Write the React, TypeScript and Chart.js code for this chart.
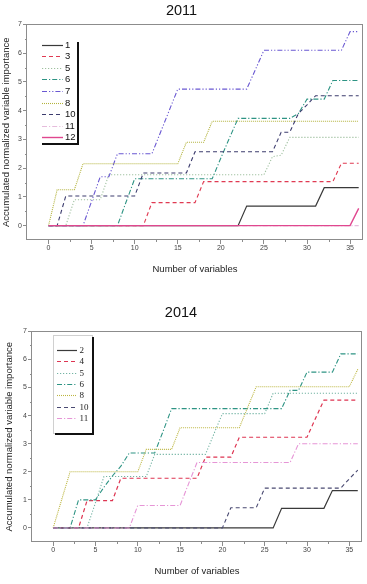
import React, { useEffect, useRef } from 'react';
import { Chart, registerables } from 'chart.js';

Chart.register(...registerables);

// ---------- data ----------
const NUM_VARIABLES = [0, 1, 2, 3, 4, 5, 6, 7, 8, 9, 10, 11, 12, 13, 14, 15, 16, 17, 18, 19, 20, 21, 22, 23, 24, 25, 26, 27, 28, 29, 30, 31, 32, 33, 34, 35, 36];
const X_TICKS = [0, 5, 10, 15, 20, 25, 30, 35];
const Y_TICKS = [0, 1, 2, 3, 4, 5, 6, 7];

const LABELS_2011 = ['1', '3', '5', '6', '7', '8', '10', '11', '12'];
const V2011_1 = [0, 0, 0, 0, 0, 0, 0, 0, 0, 0, 0, 0, 0, 0, 0, 0, 0, 0, 0, 0, 0, 0, 0, 0.68, 0.68, 0.68, 0.68, 0.68, 0.68, 0.68, 0.68, 0.68, 1.32, 1.32, 1.32, 1.32, 1.32];
const V2011_3 = [0, 0, 0, 0, 0, 0, 0, 0, 0, 0, 0, 0, 0.8, 0.8, 0.8, 0.8, 0.8, 0.8, 1.53, 1.53, 1.53, 1.53, 1.53, 1.53, 1.53, 1.53, 1.53, 1.53, 1.53, 1.53, 1.53, 1.53, 1.53, 1.53, 2.17, 2.17, 2.17];
const V2011_5 = [0, 0, 0, 0.9, 0.9, 0.9, 0.9, 1.77, 1.77, 1.77, 1.77, 1.77, 1.77, 1.77, 1.77, 1.77, 1.77, 1.77, 1.77, 1.77, 1.77, 1.77, 1.77, 1.77, 1.77, 1.77, 2.4, 2.45, 3.07, 3.07, 3.07, 3.07, 3.07, 3.07, 3.07, 3.07, 3.07];
const V2011_6 = [0, 0, 0, 0, 0, 0, 0, 0, 0, 0.82, 1.63, 1.63, 1.63, 1.63, 1.63, 1.63, 1.63, 1.63, 1.63, 1.63, 2.35, 3.05, 3.73, 3.73, 3.73, 3.73, 3.73, 3.73, 3.73, 3.9, 4.4, 4.4, 4.4, 5.05, 5.05, 5.05, 5.05];
const V2011_7 = [0, 0, 0, 0, 0, 0.85, 1.7, 1.7, 2.5, 2.5, 2.5, 2.5, 2.5, 3.25, 4.0, 4.75, 4.75, 4.75, 4.75, 4.75, 4.75, 4.75, 4.75, 4.75, 5.42, 6.1, 6.1, 6.1, 6.1, 6.1, 6.1, 6.1, 6.1, 6.1, 6.1, 6.75, 6.75];
const V2011_8 = [0, 1.25, 1.25, 1.25, 2.15, 2.15, 2.15, 2.15, 2.15, 2.15, 2.15, 2.15, 2.15, 2.15, 2.15, 2.15, 2.9, 2.9, 2.9, 3.63, 3.63, 3.63, 3.63, 3.63, 3.63, 3.63, 3.63, 3.63, 3.63, 3.63, 3.63, 3.63, 3.63, 3.63, 3.63, 3.63, 3.63];
const V2011_10 = [0, 0, 1.03, 1.03, 1.03, 1.03, 1.03, 1.03, 1.03, 1.03, 1.03, 1.83, 1.83, 1.83, 1.83, 1.83, 1.83, 2.57, 2.57, 2.57, 2.57, 2.57, 2.57, 2.57, 2.57, 2.57, 2.57, 3.25, 3.25, 3.9, 4.2, 4.52, 4.52, 4.52, 4.52, 4.52, 4.52];
const V2011_11 = [0, 0, 0, 0, 0, 0, 0, 0, 0, 0, 0, 0, 0, 0, 0, 0, 0, 0, 0, 0, 0, 0, 0, 0, 0, 0, 0, 0, 0, 0, 0, 0, 0, 0, 0, 0, 0];
const V2011_12 = [0, 0, 0, 0, 0, 0, 0, 0, 0, 0, 0, 0, 0, 0, 0, 0, 0, 0, 0, 0, 0, 0, 0, 0, 0, 0, 0, 0, 0, 0, 0, 0, 0, 0, 0, 0, 0.6];

const LABELS_2014 = ['2', '4', '5', '6', '8', '10', '11'];
const V2014_2 = [0, 0, 0, 0, 0, 0, 0, 0, 0, 0, 0, 0, 0, 0, 0, 0, 0, 0, 0, 0, 0, 0, 0, 0, 0, 0, 0, 0.7, 0.7, 0.7, 0.7, 0.7, 0.7, 1.33, 1.33, 1.33, 1.33];
const V2014_4 = [0, 0, 0, 0, 0.97, 0.97, 0.97, 0.97, 1.77, 1.77, 1.77, 1.77, 1.77, 1.77, 1.77, 1.77, 1.77, 1.77, 2.52, 2.52, 2.52, 2.52, 3.23, 3.23, 3.23, 3.23, 3.23, 3.23, 3.23, 3.23, 3.23, 3.9, 4.55, 4.55, 4.55, 4.55, 4.55];
const V2014_5 = [0, 0, 0, 0, 0, 0.9, 1.83, 1.83, 1.83, 1.83, 1.83, 1.83, 2.62, 2.62, 2.62, 2.62, 2.62, 2.62, 2.62, 3.35, 4.07, 4.07, 4.07, 4.07, 4.07, 4.07, 4.8, 4.8, 4.8, 4.8, 4.8, 4.8, 4.8, 4.8, 4.8, 4.8, 4.8];
const V2014_6 = [0, 0, 0, 1.0, 1.0, 1.0, 1.45, 1.85, 2.2, 2.67, 2.67, 2.67, 2.67, 3.45, 4.25, 4.25, 4.25, 4.25, 4.25, 4.25, 4.25, 4.25, 4.25, 4.25, 4.25, 4.25, 4.25, 4.25, 4.9, 4.9, 5.55, 5.55, 5.55, 5.55, 6.2, 6.2, 6.2];
const V2014_8 = [0, 1.0, 2.0, 2.0, 2.0, 2.0, 2.0, 2.0, 2.0, 2.0, 2.0, 2.8, 2.8, 2.8, 2.8, 3.57, 3.57, 3.57, 3.57, 3.57, 3.57, 3.57, 3.57, 4.3, 5.03, 5.03, 5.03, 5.03, 5.03, 5.03, 5.03, 5.03, 5.03, 5.03, 5.03, 5.03, 5.65];
const V2014_10 = [0, 0, 0, 0, 0, 0, 0, 0, 0, 0, 0, 0, 0, 0, 0, 0, 0, 0, 0, 0, 0, 0.72, 0.72, 0.72, 0.72, 1.42, 1.42, 1.42, 1.42, 1.42, 1.42, 1.42, 1.42, 1.42, 1.42, 1.75, 2.06];
const V2014_11 = [0, 0, 0, 0, 0, 0, 0, 0, 0, 0, 0.8, 0.8, 0.8, 0.8, 0.8, 0.8, 1.57, 2.33, 2.33, 2.33, 2.33, 2.33, 2.33, 2.33, 2.33, 2.33, 2.33, 2.33, 2.33, 3.0, 3.0, 3.0, 3.0, 3.0, 3.0, 3.0, 3.0];

const VALUES_2011 = [V2011_1, V2011_3, V2011_5, V2011_6, V2011_7, V2011_8, V2011_10, V2011_11, V2011_12];
const VALUES_2014 = [V2014_2, V2014_4, V2014_5, V2014_6, V2014_8, V2014_10, V2014_11];

// ---------- styles ----------
const DOT = [1.2, 1.8];
const SHORT_DOT = [1, 1];
const DASH = [4, 3];
const DASH_DOT = [5, 2, 1.2, 2];
const DASH_DOT_DOT = [5, 2, 1.2, 2, 1.2, 2];

const COLORS_2011 = ['#3a3a3a', '#e03a52', '#9fc09f', '#2e9484', '#6a58d2', '#b3b33c', '#3c3c6e', '#e6bcdc', '#e0478f'];
const DASHES_2011 = [[], DASH, DOT, DASH_DOT, DASH_DOT_DOT, SHORT_DOT, DASH, DASH_DOT, []];
const WIDTHS_2011 = [1.2, 1.1, 1.1, 1.1, 1.1, 1.1, 1.1, 1.1, 1.4];

const COLORS_2014 = ['#3a3a3a', '#de3552', '#74b4a4', '#2e9484', '#bcb640', '#4a4a72', '#e695d6'];
const DASHES_2014 = [[], DASH, DOT, DASH_DOT, SHORT_DOT, DASH, DASH_DOT];
const WIDTHS_2014 = [1.2, 1.2, 1.1, 1.1, 1.1, 1.1, 1.1];

const SANS = '"Liberation Sans", Arial, sans-serif';
const SERIF = '"Liberation Serif", "Times New Roman", serif';

const framePlugin = {
  id: 'frame',
  afterDatasetsDraw(chart: any, _args: any, opts: any) {
    const { ctx, chartArea: a, scales } = chart;
    ctx.save();
    ctx.setLineDash([]);
    ctx.strokeStyle = opts.frameColor;
    ctx.lineWidth = 1;
    ctx.strokeRect(Math.round(a.left) - 0.5, Math.round(a.top) + 0.5, Math.round(a.right - a.left), Math.round(a.bottom - a.top) - 1);
    // minor ticks
    const xs = scales.x;
    const ys = scales.y;
    ctx.beginPath();
    for (let i = 0; i < X_TICKS.length - 1; i++) {
      const px = Math.round(xs.getPixelForValue((X_TICKS[i] + X_TICKS[i + 1]) / 2)) + 0.5;
      ctx.moveTo(px, a.bottom);
      ctx.lineTo(px, a.bottom + 2);
    }
    for (let i = 0; i < Y_TICKS.length - 1; i++) {
      const py = Math.round(ys.getPixelForValue((Y_TICKS[i] + Y_TICKS[i + 1]) / 2)) + 0.5;
      ctx.moveTo(a.left, py);
      ctx.lineTo(a.left - 2, py);
    }
    ctx.stroke();

    // legend
    const L = opts.legend;
    ctx.fillStyle = '#ffffff';
    ctx.fillRect(L.x, L.y, L.w, L.h);
    if (L.borderColor) {
      ctx.strokeStyle = L.borderColor;
      ctx.lineWidth = 1;
      ctx.strokeRect(L.x + 0.5, L.y + 0.5, L.w, L.h);
    }
    ctx.fillStyle = '#111';
    ctx.fillRect(L.x + L.w, L.y + 2, 2, L.h);
    ctx.fillRect(L.x + 2, L.y + L.h, L.w, 2);
    chart.data.datasets.forEach((ds: any, i: number) => {
      const y = L.rowTop + i * L.rowStep;
      ctx.strokeStyle = ds.borderColor;
      ctx.lineWidth = ds.borderWidth;
      ctx.setLineDash(ds.borderDash || []);
      ctx.beginPath();
      ctx.moveTo(L.sampleX0, Math.round(y) + 0.5);
      ctx.lineTo(L.sampleX1, Math.round(y) + 0.5);
      ctx.stroke();
      ctx.setLineDash([]);
      ctx.fillStyle = L.textColor;
      ctx.font = L.font;
      ctx.textAlign = 'left';
      ctx.textBaseline = 'middle';
      ctx.fillText(ds.label, L.textX, y + 0.5);
    });
    ctx.restore();
  },
};

function makeConfig(p: any) {
  const n = p.labels.length;
  return {
    type: 'line',
    data: {
      datasets: p.labels.map((label: string, i: number) => ({
        label,
        data: NUM_VARIABLES.map((x, j) => ({ x, y: p.values[i][j] })),
        borderColor: p.colors[i],
        borderWidth: p.widths[i],
        borderDash: p.dashes[i],
        pointRadius: 0,
        fill: false,
        tension: 0,
        order: n - i,
      })),
    },
    options: {
      animation: false,
      responsive: false,
      maintainAspectRatio: false,
      layout: { padding: p.padding },
      plugins: {
        legend: { display: false },
        tooltip: { enabled: false },
        title: {
          display: true,
          text: p.title,
          font: { family: SANS, size: 14.5, weight: 'normal' },
          color: '#111',
          padding: p.titlePadding,
        },
        frame: { frameColor: '#8c8c8c', legend: p.legend },
      },
      scales: {
        x: {
          type: 'linear',
          min: -2.5,
          max: 36.5,
          afterBuildTicks: (s: any) => { s.ticks = X_TICKS.map((v) => ({ value: v })); },
          afterFit: (s: any) => { s.height = p.xAxisHeight; },
          ticks: { font: { family: SANS, size: 7 }, color: '#444', padding: 0, maxRotation: 0, autoSkip: false },
          grid: { drawOnChartArea: false, tickLength: 4, color: '#8c8c8c' },
          border: { display: false },
          title: { display: true, text: 'Number of variables', font: { family: SANS, size: 9.5 }, color: '#222', padding: 0 },
        },
        y: {
          type: 'linear',
          min: -0.5,
          max: 7,
          afterBuildTicks: (s: any) => { s.ticks = Y_TICKS.map((v) => ({ value: v })); },
          afterFit: (s: any) => { s.width = p.yAxisWidth; },
          ticks: { font: { family: SANS, size: 7 }, color: '#444', padding: 1, autoSkip: false },
          grid: { drawOnChartArea: false, tickLength: 4, color: '#8c8c8c' },
          border: { display: false },
          title: { display: true, text: 'Accumulated normalized variable importance', font: { family: SANS, size: 9.5 }, color: '#222', padding: { top: p.yTitlePad, bottom: 0 } },
        },
      },
    },
    plugins: [framePlugin],
  };
}

const CONFIG_2011 = () => makeConfig({
  title: '2011',
  labels: LABELS_2011,
  values: VALUES_2011,
  colors: COLORS_2011,
  dashes: DASHES_2011,
  widths: WIDTHS_2011,
  padding: { left: 0, right: 4, top: 0, bottom: 17 },
  titlePadding: { top: 2, bottom: 5 },
  xAxisHeight: 35,
  yAxisWidth: 27,
  yTitlePad: 1,
  legend: {
    x: 40, y: 40, w: 37, h: 103, borderColor: null,
    rowTop: 44.5, rowStep: 11.6, sampleX0: 42, sampleX1: 63, textX: 65,
    font: `9.5px ${SANS}`, textColor: '#111',
  },
});

const CONFIG_2014 = () => makeConfig({
  title: '2014',
  labels: LABELS_2014,
  values: VALUES_2014,
  colors: COLORS_2014,
  dashes: DASHES_2014,
  widths: WIDTHS_2014,
  padding: { left: 0, right: 5, top: 0, bottom: 7 },
  titlePadding: { top: 12, bottom: 10 },
  xAxisHeight: 35,
  yAxisWidth: 32,
  yTitlePad: 4,
  legend: {
    x: 53, y: 43, w: 39, h: 98, borderColor: '#d0d0d0',
    rowTop: 58, rowStep: 11.35, sampleX0: 57, sampleX1: 77, textX: 79.5,
    font: `9px ${SERIF}`, textColor: '#222',
  },
});

function ChartCanvas({ makeCfg, height }: { makeCfg: () => any; height: number }) {
  const ref = useRef<HTMLCanvasElement | null>(null);
  useEffect(() => {
    if (!ref.current) return;
    const chart = new Chart(ref.current, makeCfg());
    return () => chart.destroy();
  }, []);
  return <canvas ref={ref} width={367} height={height} style={{ display: 'block', width: 367, height }} />;
}

export default function App() {
  return (
    <div style={{ position: 'absolute', left: 0, top: 0, width: 367, height: 584, background: '#fff' }}>
      <ChartCanvas makeCfg={CONFIG_2011} height={292} />
      <ChartCanvas makeCfg={CONFIG_2014} height={292} />
    </div>
  );
}
